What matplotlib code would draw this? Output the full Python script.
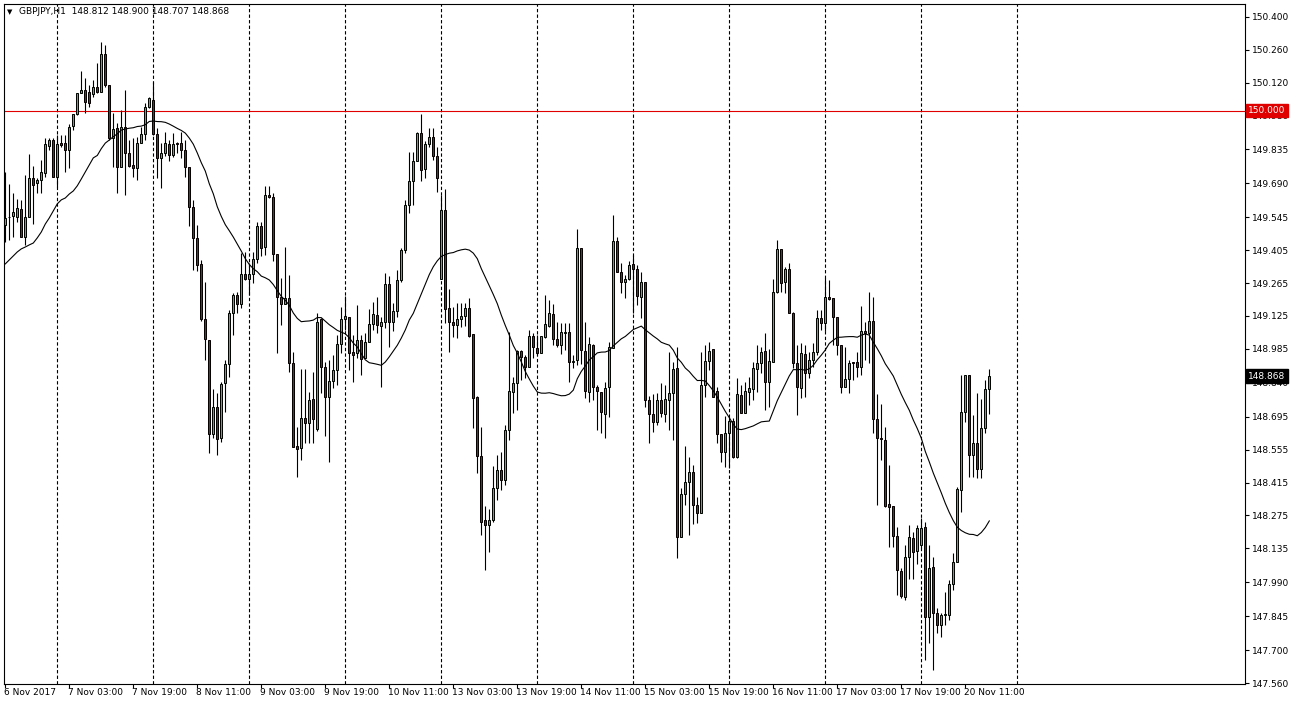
import numpy as np
import pandas as pd
import matplotlib
matplotlib.use("Agg")
import matplotlib.pyplot as plt
from matplotlib import transforms

# GBPJPY H1, 6 Nov 2017 11:00 .. 20 Nov 2017 16:00 (one value per bar)
opens = [
    149.513, 149.547, 149.551, 149.547, 149.581, 149.462, 149.547, 149.714, 149.692, 149.705,
    149.735, 149.850, 149.876, 149.718, 149.863, 149.863, 149.833, 149.935, 149.986, 150.076,
    150.089, 150.080, 150.072, 150.101, 150.080, 150.242, 150.110, 149.884, 149.927, 149.761,
    149.931, 149.820, 149.769, 149.756, 149.863, 149.901, 150.016, 150.046, 149.901, 149.799,
    149.820, 149.858, 149.812, 149.863, 149.863, 149.833, 149.761, 149.590, 149.458, 149.347,
    149.112, 149.023, 148.622, 148.737, 148.605, 148.839, 148.920, 149.138, 149.215, 149.176,
    149.304, 149.283, 149.304, 149.368, 149.509, 149.419, 149.641, 149.633, 149.390, 149.206,
    149.176, 149.202, 148.925, 148.571, 148.562, 148.690, 148.669, 148.771, 148.643, 149.112,
    148.908, 148.780, 148.848, 148.895, 149.006, 149.112, 149.121, 148.972, 148.967, 149.023,
    148.946, 149.014, 149.091, 149.129, 149.083, 149.100, 149.262, 149.100, 149.147, 149.279,
    149.407, 149.598, 149.701, 149.786, 149.905, 149.752, 149.858, 149.888, 149.807, 149.283,
    149.577, 149.159, 149.100, 149.087, 149.112, 149.125, 149.159, 149.049, 148.780, 148.528,
    148.255, 148.234, 148.255, 148.392, 148.468, 148.426, 148.639, 148.801, 148.839, 148.976,
    148.950, 148.908, 149.040, 148.989, 148.967, 149.036, 149.083, 149.134, 149.027, 149.002,
    149.053, 149.057, 148.929, 148.937, 149.415, 148.976, 148.801, 149.002, 148.822, 148.801,
    148.707, 148.822, 148.989, 149.445, 149.313, 149.270, 149.283, 149.347, 149.326, 149.206,
    149.270, 148.767, 148.707, 148.673, 148.767, 148.707, 148.767, 148.797, 148.903, 148.183,
    148.366, 148.417, 148.460, 148.319, 148.285, 148.831, 148.933, 148.984, 148.805, 148.622,
    148.545, 148.626, 148.677, 148.524, 148.788, 148.711, 148.801, 148.814, 148.899, 148.925,
    148.976, 148.844, 148.929, 149.227, 149.411, 149.270, 149.326, 149.138, 148.925, 148.818,
    148.963, 148.882, 148.937, 148.972, 149.117, 149.095, 149.206, 149.202, 149.121, 149.002,
    148.822, 148.856, 148.929, 148.929, 148.908, 149.061, 149.053, 149.104, 148.686, 148.605,
    148.596, 148.323, 148.315, 148.187, 148.038, 147.927, 148.097, 148.179, 148.123, 148.149,
    148.225, 147.842, 148.055, 147.859, 147.808, 147.850, 147.850, 147.982, 148.076, 148.383,
    148.716, 148.874, 148.532, 148.583, 148.472, 148.648, 148.812,
]
highs = [
    149.739, 149.688, 149.650, 149.624, 149.620, 149.726, 149.816, 149.765, 149.714, 149.790,
    149.884, 149.884, 149.884, 149.897, 149.897, 149.897, 149.944, 149.986, 150.076, 150.170,
    150.140, 150.110, 150.131, 150.204, 150.293, 150.281, 150.110, 149.991, 149.948, 150.003,
    150.089, 149.876, 149.884, 149.888, 149.931, 150.033, 150.059, 150.123, 149.927, 149.863,
    149.910, 149.876, 149.905, 149.867, 149.910, 149.876, 149.761, 149.620, 149.513, 149.364,
    149.270, 149.023, 148.814, 148.797, 148.844, 148.937, 149.151, 149.223, 149.227, 149.394,
    149.398, 149.351, 149.398, 149.526, 149.526, 149.680, 149.680, 149.650, 149.390, 149.287,
    149.419, 149.300, 148.972, 148.652, 148.899, 148.899, 148.801, 148.886, 149.138, 149.117,
    148.929, 148.937, 148.959, 149.044, 149.164, 149.210, 149.121, 149.044, 149.172, 149.044,
    149.053, 149.155, 149.185, 149.206, 149.121, 149.309, 149.296, 149.181, 149.321, 149.415,
    149.620, 149.825, 149.825, 149.910, 149.986, 149.871, 149.927, 149.927, 149.846, 149.641,
    149.667, 149.240, 149.164, 149.181, 149.181, 149.181, 149.202, 149.049, 148.784, 148.652,
    148.315, 148.302, 148.485, 148.532, 148.545, 148.660, 149.057, 148.865, 148.980, 148.980,
    148.959, 149.066, 149.053, 149.044, 149.040, 149.215, 149.193, 149.176, 149.100, 149.095,
    149.095, 149.095, 148.959, 149.496, 149.415, 149.100, 149.036, 149.006, 148.831, 148.801,
    148.844, 149.014, 149.556, 149.462, 149.351, 149.300, 149.360, 149.385, 149.343, 149.313,
    149.270, 148.784, 148.793, 148.797, 148.839, 148.831, 148.972, 148.929, 148.993, 148.392,
    148.571, 148.524, 148.490, 148.353, 148.972, 149.002, 149.014, 148.984, 148.822, 148.622,
    148.699, 148.694, 148.690, 148.861, 148.831, 148.844, 148.865, 148.929, 149.002, 148.993,
    149.053, 148.984, 149.283, 149.449, 149.411, 149.334, 149.351, 149.142, 149.002, 149.010,
    149.002, 148.972, 149.010, 149.151, 149.151, 149.287, 149.279, 149.202, 149.121, 149.002,
    148.993, 148.937, 148.929, 148.972, 149.168, 149.100, 149.227, 149.206, 148.793, 148.750,
    148.652, 148.490, 148.315, 148.225, 148.051, 148.149, 148.234, 148.204, 148.234, 148.264,
    148.247, 148.149, 148.098, 147.880, 147.859, 147.948, 147.999, 148.115, 148.396, 148.874,
    148.874, 148.874, 148.703, 148.797, 148.771, 148.852, 148.900,
]
lows = [
    149.440, 149.449, 149.462, 149.526, 149.460, 149.428, 149.547, 149.517, 149.650, 149.650,
    149.718, 149.833, 149.718, 149.675, 149.846, 149.739, 149.756, 149.918, 149.982, 150.076,
    149.991, 150.016, 150.059, 150.076, 150.080, 150.101, 149.876, 149.761, 149.650, 149.761,
    149.641, 149.761, 149.718, 149.705, 149.863, 149.876, 150.012, 149.897, 149.714, 149.671,
    149.807, 149.786, 149.803, 149.820, 149.799, 149.718, 149.509, 149.321, 149.317, 149.104,
    148.937, 148.541, 148.605, 148.532, 148.588, 148.716, 148.865, 149.044, 149.138, 149.159,
    149.279, 149.215, 149.266, 149.351, 149.381, 149.385, 149.628, 149.360, 148.967, 149.087,
    149.176, 148.886, 148.566, 148.439, 148.511, 148.584, 148.584, 148.584, 148.635, 148.797,
    148.613, 148.503, 148.818, 148.831, 148.967, 149.066, 148.895, 148.844, 148.946, 148.874,
    148.946, 149.014, 149.066, 149.053, 148.822, 149.074, 148.993, 149.061, 149.121, 149.270,
    149.394, 149.564, 149.598, 149.786, 149.701, 149.714, 149.846, 149.790, 149.654, 149.283,
    149.095, 148.972, 149.036, 149.031, 149.078, 149.083, 149.036, 148.648, 148.456, 148.191,
    148.042, 148.119, 148.247, 148.340, 148.383, 148.404, 148.596, 148.711, 148.724, 148.852,
    148.861, 148.908, 148.946, 148.959, 148.967, 149.031, 149.078, 149.002, 148.993, 148.963,
    148.980, 148.844, 148.904, 148.916, 148.920, 148.775, 148.758, 148.767, 148.639, 148.626,
    148.605, 148.694, 148.989, 149.313, 149.223, 149.202, 149.279, 149.138, 149.172, 149.117,
    148.737, 148.584, 148.630, 148.660, 148.694, 148.673, 148.639, 148.596, 148.093, 148.183,
    148.319, 148.191, 148.238, 148.242, 148.285, 148.780, 148.895, 148.780, 148.584, 148.503,
    148.481, 148.477, 148.520, 148.520, 148.711, 148.711, 148.746, 148.767, 148.801, 148.882,
    148.724, 148.737, 148.929, 149.223, 149.227, 149.223, 149.138, 148.903, 148.703, 148.775,
    148.780, 148.861, 148.908, 148.959, 149.066, 149.061, 149.193, 149.002, 148.959, 148.797,
    148.822, 148.797, 148.852, 148.865, 148.874, 148.937, 148.925, 148.626, 148.319, 148.511,
    148.311, 148.140, 148.140, 147.936, 147.923, 147.914, 148.004, 148.004, 148.068, 148.136,
    147.658, 147.731, 147.616, 147.774, 147.756, 147.808, 147.829, 147.957, 148.076, 148.289,
    148.673, 148.439, 148.439, 148.434, 148.434, 148.626, 148.707,
]
closes = [
    149.543, 149.545, 149.568, 149.586, 149.462, 149.547, 149.714, 149.684, 149.705, 149.739,
    149.858, 149.876, 149.718, 149.858, 149.854, 149.833, 149.931, 149.986, 150.076, 150.089,
    150.038, 150.033, 150.101, 150.080, 150.242, 150.110, 149.884, 149.922, 149.761, 149.931,
    149.820, 149.765, 149.756, 149.863, 149.901, 150.016, 150.054, 149.901, 149.799, 149.820,
    149.863, 149.812, 149.858, 149.858, 149.833, 149.761, 149.590, 149.458, 149.343, 149.112,
    149.027, 148.622, 148.737, 148.601, 148.835, 148.920, 149.138, 149.215, 149.176, 149.304,
    149.283, 149.304, 149.368, 149.509, 149.415, 149.641, 149.633, 149.390, 149.206, 149.176,
    149.202, 148.925, 148.566, 148.558, 148.690, 148.669, 148.767, 148.686, 149.100, 148.908,
    148.780, 148.848, 148.895, 149.006, 149.112, 149.125, 148.967, 148.959, 149.023, 148.942,
    149.014, 149.091, 149.134, 149.087, 149.100, 149.262, 149.100, 149.147, 149.279, 149.407,
    149.598, 149.701, 149.786, 149.905, 149.748, 149.858, 149.888, 149.807, 149.714, 149.577,
    149.155, 149.100, 149.087, 149.112, 149.125, 149.159, 149.040, 148.776, 148.528, 148.246,
    148.234, 148.255, 148.392, 148.468, 148.426, 148.639, 148.805, 148.839, 148.976, 148.950,
    148.908, 149.040, 148.993, 148.967, 149.040, 149.091, 149.138, 149.027, 149.002, 149.057,
    149.057, 148.929, 148.933, 149.415, 148.980, 148.805, 149.006, 148.822, 148.805, 148.716,
    148.818, 148.993, 149.445, 149.313, 149.270, 149.283, 149.343, 149.326, 149.210, 149.270,
    148.767, 148.707, 148.673, 148.767, 148.711, 148.771, 148.797, 148.899, 148.183, 148.366,
    148.417, 148.460, 148.319, 148.285, 148.831, 148.933, 148.976, 148.780, 148.622, 148.545,
    148.626, 148.677, 148.524, 148.793, 148.711, 148.805, 148.818, 148.903, 148.925, 148.972,
    148.844, 148.933, 149.227, 149.411, 149.266, 149.326, 149.138, 148.925, 148.822, 148.967,
    148.882, 148.937, 148.972, 149.117, 149.095, 149.206, 149.198, 149.121, 149.002, 148.822,
    148.856, 148.925, 148.925, 148.908, 149.061, 149.053, 149.104, 148.686, 148.605, 148.601,
    148.315, 148.311, 148.187, 148.042, 147.931, 148.097, 148.183, 148.119, 148.221, 148.221,
    147.842, 148.051, 147.859, 147.808, 147.850, 147.854, 147.982, 148.076, 148.387, 148.716,
    148.874, 148.532, 148.583, 148.472, 148.648, 148.814, 148.868,
]

# moving average as shown for the first bars (its window reaches back before the chart)
ma_head = [
    149.347, 149.364, 149.381, 149.398, 149.411, 149.419, 149.428, 149.436, 149.458, 149.483,
    149.517, 149.543, 149.573, 149.603, 149.620, 149.628, 149.645, 149.658, 149.680, 149.709,
    149.739, 149.769, 149.799,
]
ma_period = 24

level_line = 150.000
last_price = 148.868

time_labels = ["6 Nov 2017", "7 Nov 03:00", "7 Nov 19:00", "8 Nov 11:00", "9 Nov 03:00",
               "9 Nov 19:00", "10 Nov 11:00", "13 Nov 03:00", "13 Nov 19:00", "14 Nov 11:00",
               "15 Nov 03:00", "15 Nov 19:00", "16 Nov 11:00", "17 Nov 03:00", "17 Nov 19:00",
               "20 Nov 11:00"]
label_bars = [0, 16, 32, 48, 64, 80, 96, 112, 128, 144, 160, 176, 192, 208, 224, 240]
day_start_bars = [13, 37, 61, 85, 109, 133, 157, 181, 205, 229, 253]

price_ticks = [150.400, 150.260, 150.120, 149.980, 149.835, 149.690, 149.545, 149.405,
               149.265, 149.125, 148.985, 148.840, 148.695, 148.555, 148.415, 148.275,
               148.135, 147.990, 147.845, 147.700, 147.560]

header = "GBPJPY,H1  148.812 148.900 148.707 148.868"

bull_color = "#32cd32"
bear_color = "#e00000"

W, H = 1292, 708
fig = plt.figure(figsize=(W / 100, H / 100), dpi=100)
fig.patch.set_facecolor("white")
ax = fig.add_axes([4 / W, 24 / H, 1241 / W, 680 / H])
ax.set_facecolor("white")

o = np.array(opens)
h = np.array(highs)
l = np.array(lows)
c = np.array(closes)
x = np.arange(len(c))

ax.set_xlim(-0.325, 309.925)
ax.set_ylim(147.556, 150.455)

# day separators
for b in day_start_bars:
    ax.axvline(b, color="black", lw=0.8, ls=(0, (3, 2)), zorder=1)

# user level line
ax.axhline(level_line, color="#e00000", lw=0.8, zorder=1)

# candles
ax.vlines(x, l, h, color="black", lw=0.8, zorder=2)
up = c >= o
lo = np.minimum(o, c)
ht = np.abs(c - o)
ax.bar(x[up], ht[up], bottom=lo[up], width=0.5, color=bull_color,
       edgecolor="black", lw=0.7, zorder=3)
ax.bar(x[~up], ht[~up], bottom=lo[~up], width=0.5, color=bear_color,
       edgecolor="black", lw=0.7, zorder=3)

# moving average
ma = pd.Series(c).rolling(ma_period).mean().to_numpy()
ma[:len(ma_head)] = ma_head
ax.plot(x, ma, color="black", lw=0.8, zorder=4)

# axes look
for s in ax.spines.values():
    s.set_linewidth(0.8)
    s.set_color("black")

ax.yaxis.tick_right()
ax.set_yticks(price_ticks)
ax.set_yticklabels(["%.3f" % p for p in price_ticks])
ax.tick_params(axis="y", direction="out", length=3, width=0.8, pad=2,
               labelsize=6.5, colors="black")

ax.set_xticks(label_bars)
ax.set_xticklabels([])
ax.tick_params(axis="x", direction="out", length=3, width=0.8)
tx = transforms.blended_transform_factory(ax.transData, ax.transAxes)
for b, t in zip(label_bars, time_labels):
    ax.text(b - 0.2, -0.006, t, transform=tx, ha="left", va="top",
            fontsize=6.5, color="black", clip_on=False)

# price boxes on the right scale
ty = transforms.blended_transform_factory(ax.transAxes, ax.transData)
ax.text(1.0025, level_line, "150.000", transform=ty, ha="left", va="center",
        fontsize=6.5, color="white", clip_on=False, zorder=10,
        bbox=dict(boxstyle="square,pad=0.25", fc="#e00000", ec="#e00000"))
ax.text(1.0025, last_price, "%.3f" % last_price, transform=ty, ha="left", va="center",
        fontsize=6.5, color="white", clip_on=False, zorder=10,
        bbox=dict(boxstyle="square,pad=0.25", fc="black", ec="black"))

# header
fig.text(7 / W, 1 - 12 / H, "\u25bc", fontsize=5, va="center", ha="left")
fig.text(19 / W, 1 - 12 / H, header, fontsize=6.5, va="center", ha="left")

fig.savefig("out.png", dpi=100, facecolor="white")
